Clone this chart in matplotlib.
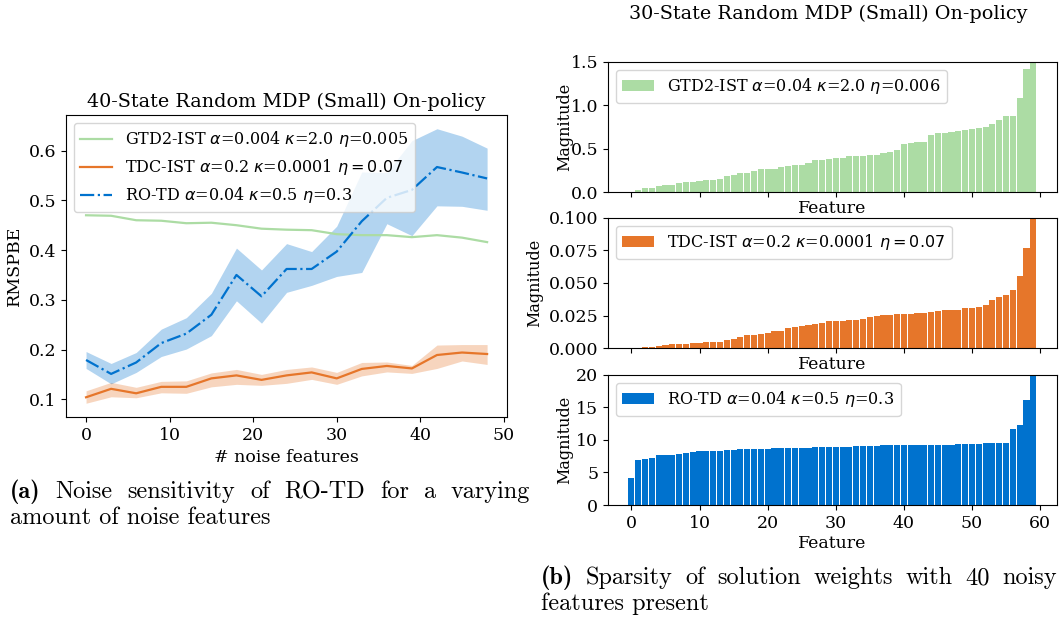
import numpy as np
import matplotlib
matplotlib.use("Agg")
import matplotlib.pyplot as plt

plt.rcParams["font.family"] = "DejaVu Serif"

# ---- (a) noise sensitivity ----
noise = [0, 3, 6, 9, 12, 15, 18, 21, 24, 27, 30, 33, 36, 39, 42, 45, 48]
gtd2_mean = [0.470, 0.469, 0.460, 0.459, 0.454, 0.455, 0.450, 0.443, 0.441, 0.440,
             0.432, 0.430, 0.430, 0.426, 0.430, 0.425, 0.416]
tdc_mean = [0.104, 0.121, 0.112, 0.125, 0.125, 0.142, 0.148, 0.139, 0.148, 0.154,
            0.142, 0.161, 0.167, 0.162, 0.189, 0.194, 0.191]
tdc_hi = [0.117, 0.134, 0.124, 0.136, 0.137, 0.153, 0.160, 0.150, 0.160, 0.165,
          0.154, 0.174, 0.175, 0.168, 0.209, 0.210, 0.210]
tdc_lo = [0.092, 0.105, 0.103, 0.113, 0.112, 0.125, 0.130, 0.128, 0.132, 0.140,
          0.130, 0.147, 0.155, 0.152, 0.162, 0.177, 0.170]
rotd_mean = [0.179, 0.151, 0.174, 0.213, 0.232, 0.270, 0.350, 0.307, 0.362, 0.362,
             0.397, 0.458, 0.505, 0.521, 0.567, 0.556, 0.544]
rotd_hi = [0.196, 0.172, 0.194, 0.241, 0.264, 0.313, 0.404, 0.360, 0.413, 0.397,
           0.448, 0.557, 0.556, 0.620, 0.644, 0.629, 0.605]
rotd_lo = [0.162, 0.131, 0.154, 0.186, 0.201, 0.228, 0.298, 0.253, 0.315, 0.329,
           0.347, 0.355, 0.453, 0.429, 0.489, 0.488, 0.480]

# ---- (b) sorted weight magnitudes, 60 features ----
gtd2_w = [0.005, 0.02, 0.05, 0.05, 0.07, 0.08, 0.08, 0.10, 0.11, 0.11,
          0.13, 0.14, 0.14, 0.15, 0.19, 0.20, 0.22, 0.22, 0.245, 0.26,
          0.27, 0.27, 0.29, 0.30, 0.31, 0.31, 0.34, 0.37, 0.37, 0.38,
          0.39, 0.39, 0.42, 0.42, 0.42, 0.43, 0.43, 0.45, 0.46, 0.49,
          0.555, 0.565, 0.575, 0.575, 0.66, 0.68, 0.68, 0.69, 0.70, 0.715,
          0.725, 0.74, 0.75, 0.785, 0.83, 0.875, 0.875, 1.08, 1.42, 1.8]
tdc_w = [0.0001, 0.0003, 0.0004, 0.001, 0.0018, 0.0026, 0.0033, 0.0033, 0.0033, 0.004,
         0.004, 0.005, 0.005, 0.005, 0.0065, 0.0072, 0.0088, 0.0103, 0.0103, 0.011,
         0.0118, 0.0133, 0.0133, 0.0157, 0.0165, 0.0172, 0.018, 0.0187, 0.0195, 0.021,
         0.021, 0.021, 0.0218, 0.0218, 0.0225, 0.024, 0.0249, 0.0256, 0.0256, 0.0264,
         0.0264, 0.0264, 0.0272, 0.0272, 0.028, 0.0287, 0.0295, 0.0295, 0.0295, 0.031,
         0.031, 0.0318, 0.0333, 0.0372, 0.0395, 0.041, 0.0449, 0.0556, 0.0772, 0.12]
rotd_w = [4.15, 6.9, 7.07, 7.2, 7.7, 7.7, 7.7, 7.85, 8.0, 8.15,
          8.3, 8.3, 8.3, 8.3, 8.45, 8.45, 8.6, 8.6, 8.6, 8.6,
          8.6, 8.75, 8.75, 8.75, 8.75, 8.75, 8.75, 8.9, 8.9, 8.9,
          8.9, 8.9, 8.9, 9.05, 9.05, 9.05, 9.05, 9.2, 9.2, 9.2,
          9.2, 9.2, 9.2, 9.2, 9.2, 9.2, 9.2, 9.2, 9.35, 9.35,
          9.35, 9.35, 9.5, 9.5, 9.5, 9.5, 11.7, 12.3, 16.15, 22.0]

c_green = "#acdca4"
c_orange = "#e6762a"
c_blue = "#0072ce"
fs = 11.5
fs_big = 12.5

W, H = 1061, 623
fig = plt.figure(figsize=(10.61, 6.23), dpi=100)

ax = fig.add_axes([0.0622, 0.3307, 0.4158, 0.4847])
ax.plot(noise, gtd2_mean, color=c_green, lw=1.6,
        label=r"GTD2-IST $\alpha$=0.004 $\kappa$=2.0 $\eta$=0.005")
ax.fill_between(noise, tdc_lo, tdc_hi, color=c_orange, alpha=0.3, lw=0)
ax.plot(noise, tdc_mean, color=c_orange, lw=1.6,
        label=r"TDC-IST $\alpha$=0.2 $\kappa$=0.0001 $\eta = 0.07$")
ax.fill_between(noise, rotd_lo, rotd_hi, color=c_blue, alpha=0.3, lw=0)
ax.plot(noise, rotd_mean, color=c_blue, lw=1.6, ls="-.",
        label=r"RO-TD $\alpha$=0.04 $\kappa$=0.5 $\eta$=0.3")
ax.set_title("40-State Random MDP (Small) On-policy", fontsize=13.8)
ax.set_xlabel("# noise features", fontsize=fs_big)
ax.set_ylabel("RMSPBE", fontsize=fs_big)
ax.set_xticks([0, 10, 20, 30, 40, 50])
ax.set_yticks([0.1, 0.2, 0.3, 0.4, 0.5, 0.6])
ax.tick_params(labelsize=fs_big)
ax.legend(loc="upper left", fontsize=fs)

feat = np.arange(60)
rects = [[0.573, 0.6918, 0.423, 0.2087],
         [0.573, 0.4414, 0.423, 0.2087],
         [0.573, 0.1894, 0.423, 0.2087]]
panels = [
    (gtd2_w, c_green, r"GTD2-IST $\alpha$=0.04 $\kappa$=2.0 $\eta$=0.006", 1.5, [0, 0.5, 1.0, 1.5]),
    (tdc_w, c_orange, r"TDC-IST $\alpha$=0.2 $\kappa$=0.0001 $\eta = 0.07$", 0.1, [0, 0.025, 0.05, 0.075, 0.1]),
    (rotd_w, c_blue, r"RO-TD $\alpha$=0.04 $\kappa$=0.5 $\eta$=0.3", 20, [0, 5, 10, 15, 20]),
]
for i, (vals, col, lab, ymax, yt) in enumerate(panels):
    a = fig.add_axes(rects[i])
    a.bar(feat, vals, width=0.9, color=col, label=lab)
    a.set_ylim(0, ymax)
    a.set_yticks(yt)
    a.set_xticks([0, 10, 20, 30, 40, 50, 60])
    if i < 2:
        a.set_xticklabels([])
    if i == 1:
        a.set_yticklabels(["0.000", "0.025", "0.050", "0.075", "0.100"])
    a.set_xlabel("Feature", fontsize=fs_big, labelpad=-1 if i < 2 else 2)
    a.set_ylabel("Magnitude", fontsize=fs)
    if i != 1:
        a.yaxis.set_label_coords(-0.078, 0.5)
    a.tick_params(labelsize=fs_big)
    a.legend(loc="upper left", fontsize=fs)

fig.text(0.7805, 0.978, "30-State Random MDP (Small) On-policy", fontsize=13.8,
         ha="center", va="center")

# captions (justified first line)
cap = 17.5
renderer = fig.canvas.get_renderer()


def justified(x0, x1, y, bold, words):
    items = [(bold, "cmb10")] + [(w, "cmr10") for w in words]
    texts = [fig.text(0, y, s, fontsize=cap, family=f, va="center") for s, f in items]
    widths = [t.get_window_extent(renderer).width for t in texts]
    gap = (x1 - x0 - sum(widths)) / (len(texts) - 1)
    x = x0
    for t, w in zip(texts, widths):
        t.set_x(x / W)
        x += w + gap


justified(10, 530, 1 - 492 / H, "(a)", "Noise sensitivity of RO-TD for a varying".split())
fig.text(10 / W, 1 - 518 / H, "amount of noise features", fontsize=cap,
         family="cmr10", va="center")
justified(541, 1057, 1 - 578 / H, "(b)", "Sparsity of solution weights with 40 noisy".split())
fig.text(541 / W, 1 - 604 / H, "features present", fontsize=cap,
         family="cmr10", va="center")

fig.savefig("out.png", dpi=100)
